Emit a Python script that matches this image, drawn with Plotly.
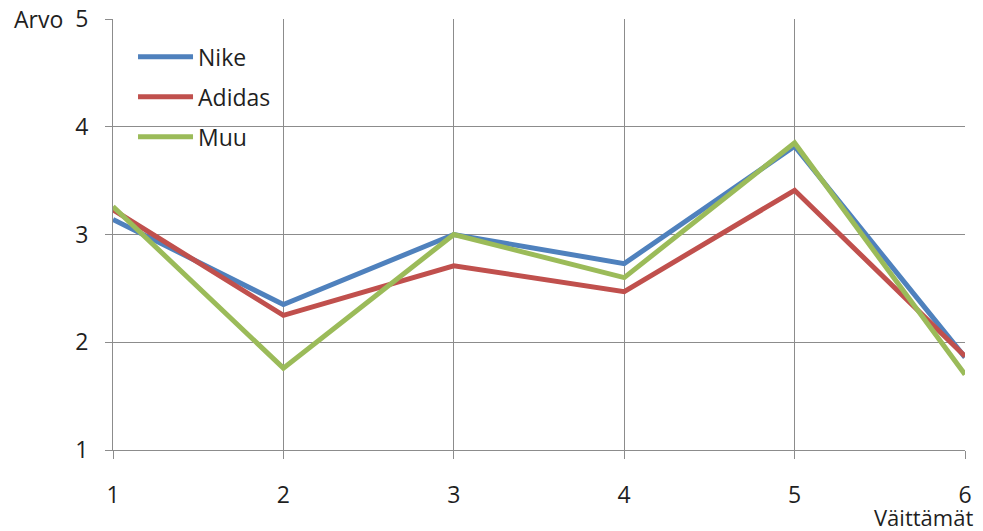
import plotly.graph_objects as go

x_vals = [1, 2, 3, 4, 5, 6]
nike = [3.14, 2.35, 3.00, 2.73, 3.82, 1.86]
adidas = [3.23, 2.25, 2.71, 2.47, 3.41, 1.87]
muu = [3.26, 1.76, 3.00, 2.60, 3.85, 1.70]
series_names = ["Nike", "Adidas", "Muu"]
colors = ["#4F81BD", "#C0504D", "#9BBB59"]
y_ticks = [1, 2, 3, 4, 5]

FONT = "Open Sans"
TXT = "#1f1f1f"
GRID = "#8c8c8c"

fig = go.Figure()
for name, vals, col in zip(series_names, [nike, adidas, muu], colors):
    fig.add_trace(go.Scatter(x=x_vals, y=vals, mode="lines", name=name,
                             legendgroup=name,
                             line=dict(color=col, width=5)))

fig.update_layout(
    width=983, height=531,
    margin=dict(l=113, r=18, t=19, b=81),
    paper_bgcolor="white", plot_bgcolor="white",
    font=dict(family=FONT, size=23, color=TXT),
    showlegend=True,
    legend=dict(x=0.0235, y=0.962, xanchor="left", yanchor="top",
                bgcolor="rgba(0,0,0,0)", font=dict(size=23, color=TXT),
                itemwidth=55, tracegroupgap=7),
    xaxis=dict(range=[1, 6], tickvals=x_vals, showgrid=True, gridcolor=GRID,
               gridwidth=1, zeroline=False, showline=True, linecolor=GRID,
               linewidth=1, ticks="outside", ticklen=8, tickcolor=GRID,
               ticklabelstandoff=16, automargin=False),
    yaxis=dict(range=[1, 5], tickvals=y_ticks, showgrid=True, gridcolor=GRID,
               gridwidth=1, zeroline=False, showline=True, linecolor=GRID,
               linewidth=1, ticks="outside", ticklen=7, tickcolor=GRID,
               ticklabelstandoff=12, automargin=False),
    annotations=[
        dict(text="Arvo", xref="paper", yref="paper", x=-0.118, y=1.0,
             xanchor="left", yanchor="middle", showarrow=False,
             font=dict(size=23, color=TXT)),
        dict(text="Väittämät", xref="paper", yref="paper", x=1.012, y=-0.155,
             xanchor="right", yanchor="middle", showarrow=False,
             font=dict(size=22, color=TXT)),
    ],
)

fig.write_html("out.html")
